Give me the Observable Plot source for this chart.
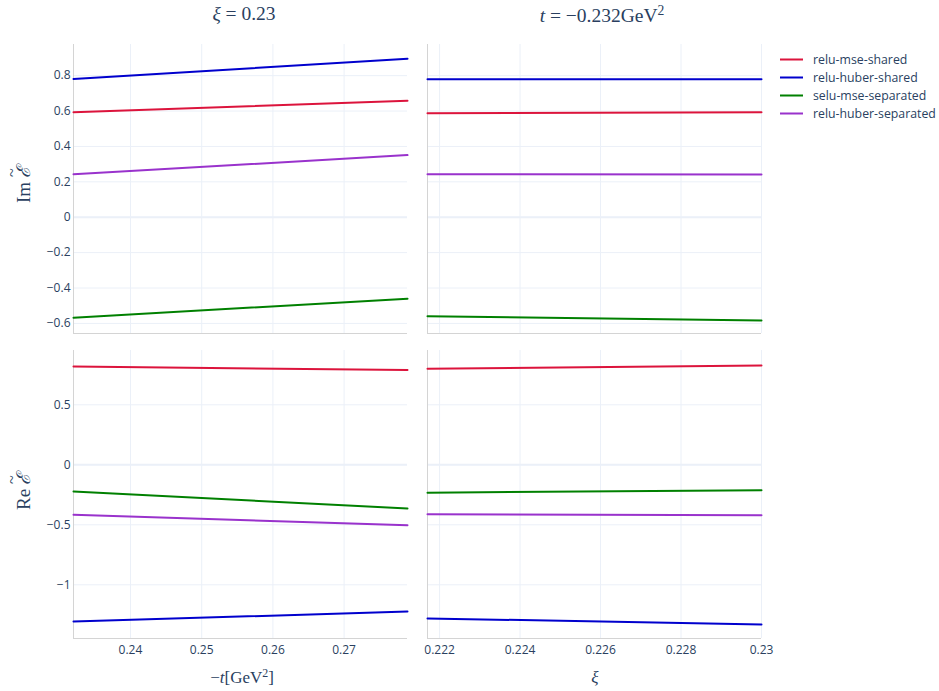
<!DOCTYPE html>
<html><head><meta charset="utf-8">
<script src="https://cdn.jsdelivr.net/npm/d3@7"></script>
<script src="https://cdn.jsdelivr.net/npm/@observablehq/plot@0.6"></script>
<style>
body{margin:0;background:#fff;}
#root{position:relative;width:939px;height:691px;font-family:"Open Sans",sans-serif;color:#2a3f5f;overflow:hidden;}
.ttl{position:absolute;font-family:"Liberation Serif","DejaVu Serif",serif;font-size:19.5px;white-space:nowrap;transform:translate(-50%,-50%);color:#2a3f5f;}
.xl{position:absolute;font-family:"Liberation Serif","DejaVu Serif",serif;font-size:17px;white-space:nowrap;transform:translate(-50%,-50%);color:#2a3f5f;}
.ylab{position:absolute;font-family:"Liberation Serif","DejaVu Serif",serif;font-size:19px;white-space:nowrap;transform:translate(-50%,-50%) rotate(-90deg);color:#2a3f5f;}
.til{position:relative;display:inline-block;}
.til .t{position:absolute;left:0;right:0;top:-0.36em;text-align:center;font-style:normal;font-size:0.85em;line-height:1;}
.leg{position:absolute;left:780px;font-size:12.3px;font-family:"Open Sans",sans-serif;color:#2a3f5f;}
.leg .row{position:absolute;left:0;white-space:nowrap;transform:translateY(-50%);display:flex;align-items:center;}
.leg .sw{display:inline-block;width:23px;height:2px;margin-right:10px;}
svg{overflow:visible;}
</style></head><body><div id="root"></div>
<script>
// ---- data ----
const series = ["relu-mse-shared", "relu-huber-shared", "selu-mse-separated", "relu-huber-separated"];
const colors = ["#dc143c", "#0000cd", "#008000", "#9932cc"];
const minusT = [0.232, 0.2789];     // −t [GeV²], panel column 1
const xi = [0.2217, 0.23];          // ξ, panel column 2
// values per series (order as in `series`), at the two x values
const imVsT = [[0.593, 0.658], [0.781, 0.896], [-0.568, -0.460], [0.243, 0.351]];
const imVsXi = [[0.588, 0.593], [0.779, 0.779], [-0.559, -0.583], [0.243, 0.241]];
const reVsT = [[0.819, 0.790], [-1.306, -1.223], [-0.2225, -0.364], [-0.417, -0.503]];
const reVsXi = [[0.800, 0.828], [-1.280, -1.330], [-0.232, -0.212], [-0.413, -0.420]];
// tick labels
const xTicksT = [0.24, 0.25, 0.26, 0.27];
const xTicksXi = [0.222, 0.224, 0.226, 0.228, 0.23];
const yTicksIm = [-0.6, -0.4, -0.2, 0, 0.2, 0.4, 0.6, 0.8];
const yTicksRe = [-1, -0.5, 0, 0.5];
// axis ranges
const xDomT = [0.232, 0.2789];
const xDomXi = [0.2217, 0.23];
const yDomIm = [-0.657, 0.976];
const yDomRe = [-1.4475, 0.9525];

const root = document.getElementById("root");
const fmt = d => (d < 0 ? "\u2212" : "") + Math.abs(d);

function rowsOf(xs, vals) {
  return vals.flatMap((v, i) => v.map((y, j) => ({x: xs[j], y, s: series[i]})));
}

function panel({xs, vals, xDomain, yDomain, xTicks, yTicks, showX, showY, x0, y0, w, h}) {
  const ml = showY ? 73 : 5, mr = 5, mt = 5, mb = showX ? 40 : 5;
  const chart = Plot.plot({
    width: w + ml + mr, height: h + mt + mb,
    marginLeft: ml, marginRight: mr, marginTop: mt, marginBottom: mb,
    style: {fontFamily: "Open Sans", fontSize: "12px", color: "#2a3f5f", background: "transparent", overflow: "visible"},
    x: {domain: xDomain, axis: showX ? "bottom" : null, ticks: xTicks, tickSize: 0, tickPadding: 7, tickFormat: fmt, label: null},
    y: {domain: yDomain, axis: showY ? "left" : null, ticks: yTicks, tickSize: 0, tickPadding: 3, tickFormat: fmt, label: null},
    color: {domain: series, range: colors},
    marks: [
      Plot.ruleX(xTicks, {stroke: "#EBF0F8", strokeWidth: 1}),
      Plot.ruleY(yTicks, {stroke: "#EBF0F8", strokeWidth: 1}),
      Plot.ruleY([0], {stroke: "#EBF0F8", strokeWidth: 2}),
      Plot.ruleX([xDomain[0]], {stroke: "#d4d4d4", strokeWidth: 1}),
      Plot.ruleY([yDomain[0]], {stroke: "#d4d4d4", strokeWidth: 1}),
      Plot.line(rowsOf(xs, vals), {x: "x", y: "y", z: "s", stroke: "s", strokeWidth: 2})
    ]
  });
  chart.style.position = "absolute";
  chart.style.left = (x0 - ml) + "px";
  chart.style.top = (y0 - mt) + "px";
  root.appendChild(chart);
}

panel({xs: minusT, vals: imVsT, xDomain: xDomT, yDomain: yDomIm, xTicks: xTicksT, yTicks: yTicksIm, showX: false, showY: true, x0: 73, y0: 44, w: 334, h: 289});
panel({xs: xi, vals: imVsXi, xDomain: xDomXi, yDomain: yDomIm, xTicks: xTicksXi, yTicks: yTicksIm, showX: false, showY: false, x0: 427, y0: 44, w: 334, h: 289});
panel({xs: minusT, vals: reVsT, xDomain: xDomT, yDomain: yDomRe, xTicks: xTicksT, yTicks: yTicksRe, showX: true, showY: true, x0: 73, y0: 350, w: 334, h: 288});
panel({xs: xi, vals: reVsXi, xDomain: xDomXi, yDomain: yDomRe, xTicks: xTicksXi, yTicks: yTicksRe, showX: true, showY: false, x0: 427, y0: 350, w: 334, h: 288});

function addHTML(cls, html, x, y) {
  const d = document.createElement("div");
  d.className = cls; d.innerHTML = html;
  d.style.left = x + "px"; d.style.top = y + "px";
  root.appendChild(d);
}
const sup2 = "<sup style='font-size:0.7em;vertical-align:0.5em;line-height:0'>2</sup>";
const eTilde = "<span class='til'><i>\u2130</i><span class='t'>~</span></span>";
addHTML("ttl", "<i>ξ</i> = 0.23", 244, 14);
addHTML("ttl", "<i>t</i> = \u22120.232GeV" + sup2, 602, 16);
addHTML("xl", "\u2212<i>t</i>[GeV" + sup2 + "]", 242, 678);
addHTML("xl", "<i>ξ</i>", 595, 678);
addHTML("ylab", "Im\u2009" + eTilde, 23, 185);
addHTML("ylab", "Re\u2009" + eTilde, 23, 492);

const leg = document.createElement("div");
leg.className = "leg";
leg.style.top = "0px";
const legY = [59, 77, 95, 113];
series.forEach((s, i) => {
  const r = document.createElement("div");
  r.className = "row";
  r.style.top = legY[i] + "px";
  r.innerHTML = `<span class="sw" style="background:${colors[i]}"></span><span>${s}</span>`;
  leg.appendChild(r);
});
root.appendChild(leg);
</script></body></html>
